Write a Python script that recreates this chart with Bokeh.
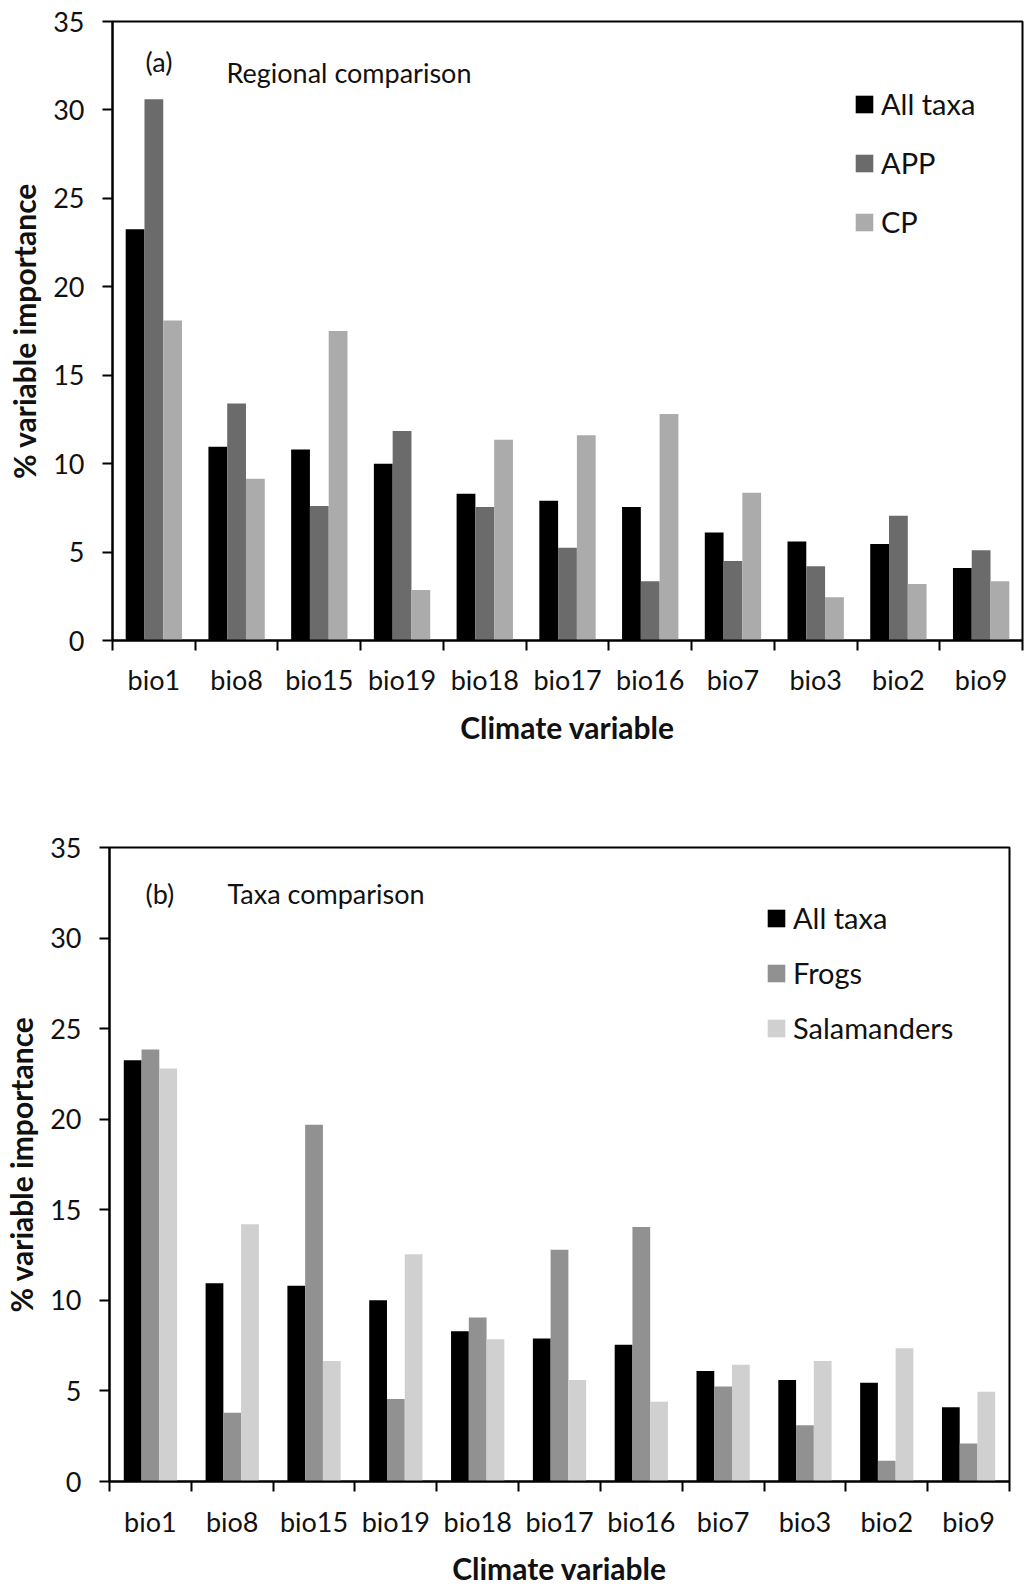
from bokeh.plotting import figure
from bokeh.models import (Range1d, LinearAxis, FixedTicker, Legend, LegendItem, Label,
                          ColumnDataSource)
from bokeh.transform import dodge
from bokeh.embed import file_html
from bokeh.resources import INLINE

# ---------------- data ----------------
categories = ["bio1", "bio8", "bio15", "bio19", "bio18", "bio17", "bio16",
              "bio7", "bio3", "bio2", "bio9"]
all_taxa = [23.25, 10.95, 10.8, 10.0, 8.3, 7.9, 7.55, 6.1, 5.6, 5.45, 4.1]
app = [30.6, 13.4, 7.6, 11.85, 7.55, 5.25, 3.35, 4.5, 4.2, 7.05, 5.1]
cp = [18.1, 9.15, 17.5, 2.85, 11.35, 11.6, 12.8, 8.35, 2.45, 3.2, 3.35]
frogs = [23.85, 3.8, 19.7, 4.55, 9.05, 12.8, 14.05, 5.25, 3.1, 1.15, 2.1]
salamanders = [22.8, 14.2, 6.65, 12.55, 7.85, 5.6, 4.4, 6.45, 6.65, 7.35, 4.95]
y_ticks = [0, 5, 10, 15, 20, 25, 30, 35]

series_a = ["All taxa", "APP", "CP"]
series_b = ["All taxa", "Frogs", "Salamanders"]
colors_a = ["#000000", "#6b6b6b", "#ababab"]
colors_b = ["#000000", "#919191", "#d0d0d0"]

FONT = "Lato"
FS = "27px"
FS_TITLE = "30px"
TXT = "#111111"

n_cat = len(categories)
cat_pos = [i + 0.5 for i in range(n_cat)]          # centre of each category slot
edge_ticks = list(range(n_cat + 1))                 # slot boundaries (tick marks)
label_overrides = {pos: name for pos, name in zip(cat_pos, categories)}


def make_panel(names, values, colors, tag, title, height, border_top, border_bottom,
               border_left, border_right, bar_w, tag_x, title_x, tag_top, title_top,
               legend_x, legend_bottom_from_top, legend_spacing, label_standoff,
               axis_label_standoff):
    frame_h = height - border_top - border_bottom
    p = figure(x_range=Range1d(0, n_cat), y_range=Range1d(0, 35),
               width=1025, height=height, output_backend="svg", toolbar_location=None,
               x_axis_location=None, min_border_top=border_top,
               min_border_bottom=border_bottom, min_border_left=border_left,
               min_border_right=border_right)
    p.grid.visible = False
    p.outline_line_color = "#000000"
    p.outline_line_width = 2
    p.background_fill_color = "white"
    p.border_fill_color = "white"

    # y axis
    ya = p.yaxis[0]
    ya.ticker = FixedTicker(ticks=y_ticks)
    ya.major_tick_in = 0
    ya.major_tick_out = 10
    ya.major_tick_line_width = 2
    ya.axis_line_width = 2
    ya.minor_tick_line_color = None
    ya.major_label_text_font = FONT
    ya.major_label_text_font_size = FS
    ya.major_label_text_color = TXT
    ya.major_label_standoff = 18
    ya.axis_label = "% variable importance"
    ya.axis_label_text_font = FONT
    ya.axis_label_text_font_size = FS_TITLE
    ya.axis_label_text_font_style = "bold"
    ya.axis_label_text_color = TXT
    ya.axis_label_standoff = 8

    # x axis: tick marks at category boundaries (no labels)
    tick_axis = LinearAxis(ticker=FixedTicker(ticks=edge_ticks),
                           major_tick_in=0, major_tick_out=10, major_tick_line_width=2,
                           axis_line_width=2, minor_tick_line_color=None,
                           major_label_text_font_size="0px",
                           major_label_text_color=None, major_label_standoff=0)
    p.add_layout(tick_axis, "below")
    # x axis: category labels at slot centres
    cat_axis = LinearAxis(ticker=FixedTicker(ticks=cat_pos),
                          major_label_overrides=label_overrides,
                          axis_line_color=None, major_tick_line_color=None,
                          major_tick_in=0, major_tick_out=0,
                          minor_tick_line_color=None, minor_tick_out=0, minor_tick_in=0,
                          major_label_standoff=label_standoff,
                          major_label_text_font=FONT, major_label_text_font_size=FS,
                          major_label_text_color=TXT,
                          axis_label="Climate variable", axis_label_text_font=FONT,
                          axis_label_text_font_size=FS_TITLE,
                          axis_label_text_font_style="bold",
                          axis_label_text_color=TXT,
                          axis_label_standoff=axis_label_standoff)
    p.add_layout(cat_axis, "below")

    items = []
    offsets = [-bar_w, 0.0, bar_w]
    for name, vals, col, off in zip(names, values, colors, offsets):
        src = ColumnDataSource(data=dict(pos=cat_pos, cat=categories, val=vals))
        r = p.vbar(x=dodge("pos", off), top="val", width=bar_w,
                   source=src, fill_color=col, line_color=None)
        items.append(LegendItem(label=name, renderers=[r]))

    legend = Legend(items=items, location=(legend_x, frame_h - legend_bottom_from_top),
                    orientation="vertical", padding=0, margin=0, spacing=legend_spacing,
                    glyph_width=22, glyph_height=22, label_height=33, label_standoff=6,
                    label_text_font=FONT, label_text_font_size="29px",
                    label_text_color=TXT, border_line_color=None,
                    background_fill_alpha=0)
    p.add_layout(legend, "center")

    p.add_layout(Label(x=tag_x, y=frame_h - tag_top, x_units="screen", y_units="screen",
                       text=tag, text_font=FONT, text_font_size=FS,
                       text_color=TXT, text_baseline="middle"))
    p.add_layout(Label(x=title_x, y=frame_h - title_top, x_units="screen",
                       y_units="screen", text=title, text_font=FONT, text_font_size=FS,
                       text_color=TXT, text_baseline="middle"))
    return p


pa = make_panel(series_a, [all_taxa, app, cp], colors_a, "(a)", "Regional comparison",
                height=747, border_top=21, border_bottom=106, border_left=112,
                border_right=3, bar_w=0.227, tag_x=33, title_x=114, tag_top=41,
                title_top=52, legend_x=741, legend_bottom_from_top=219,
                legend_spacing=24, label_standoff=12, axis_label_standoff=10)

pb = make_panel(series_b, [all_taxa, frogs, salamanders], colors_b, "(b)", "Taxa comparison",
                height=841, border_top=100, border_bottom=103, border_left=109,
                border_right=16, bar_w=0.217, tag_x=36, title_x=118, tag_top=50,
                title_top=50, legend_x=656, legend_bottom_from_top=202,
                legend_spacing=20, label_standoff=13, axis_label_standoff=9)

# two independent roots stacked on the page (no frame alignment between them)
open("out.html", "w").write(file_html([pa, pb], INLINE))
